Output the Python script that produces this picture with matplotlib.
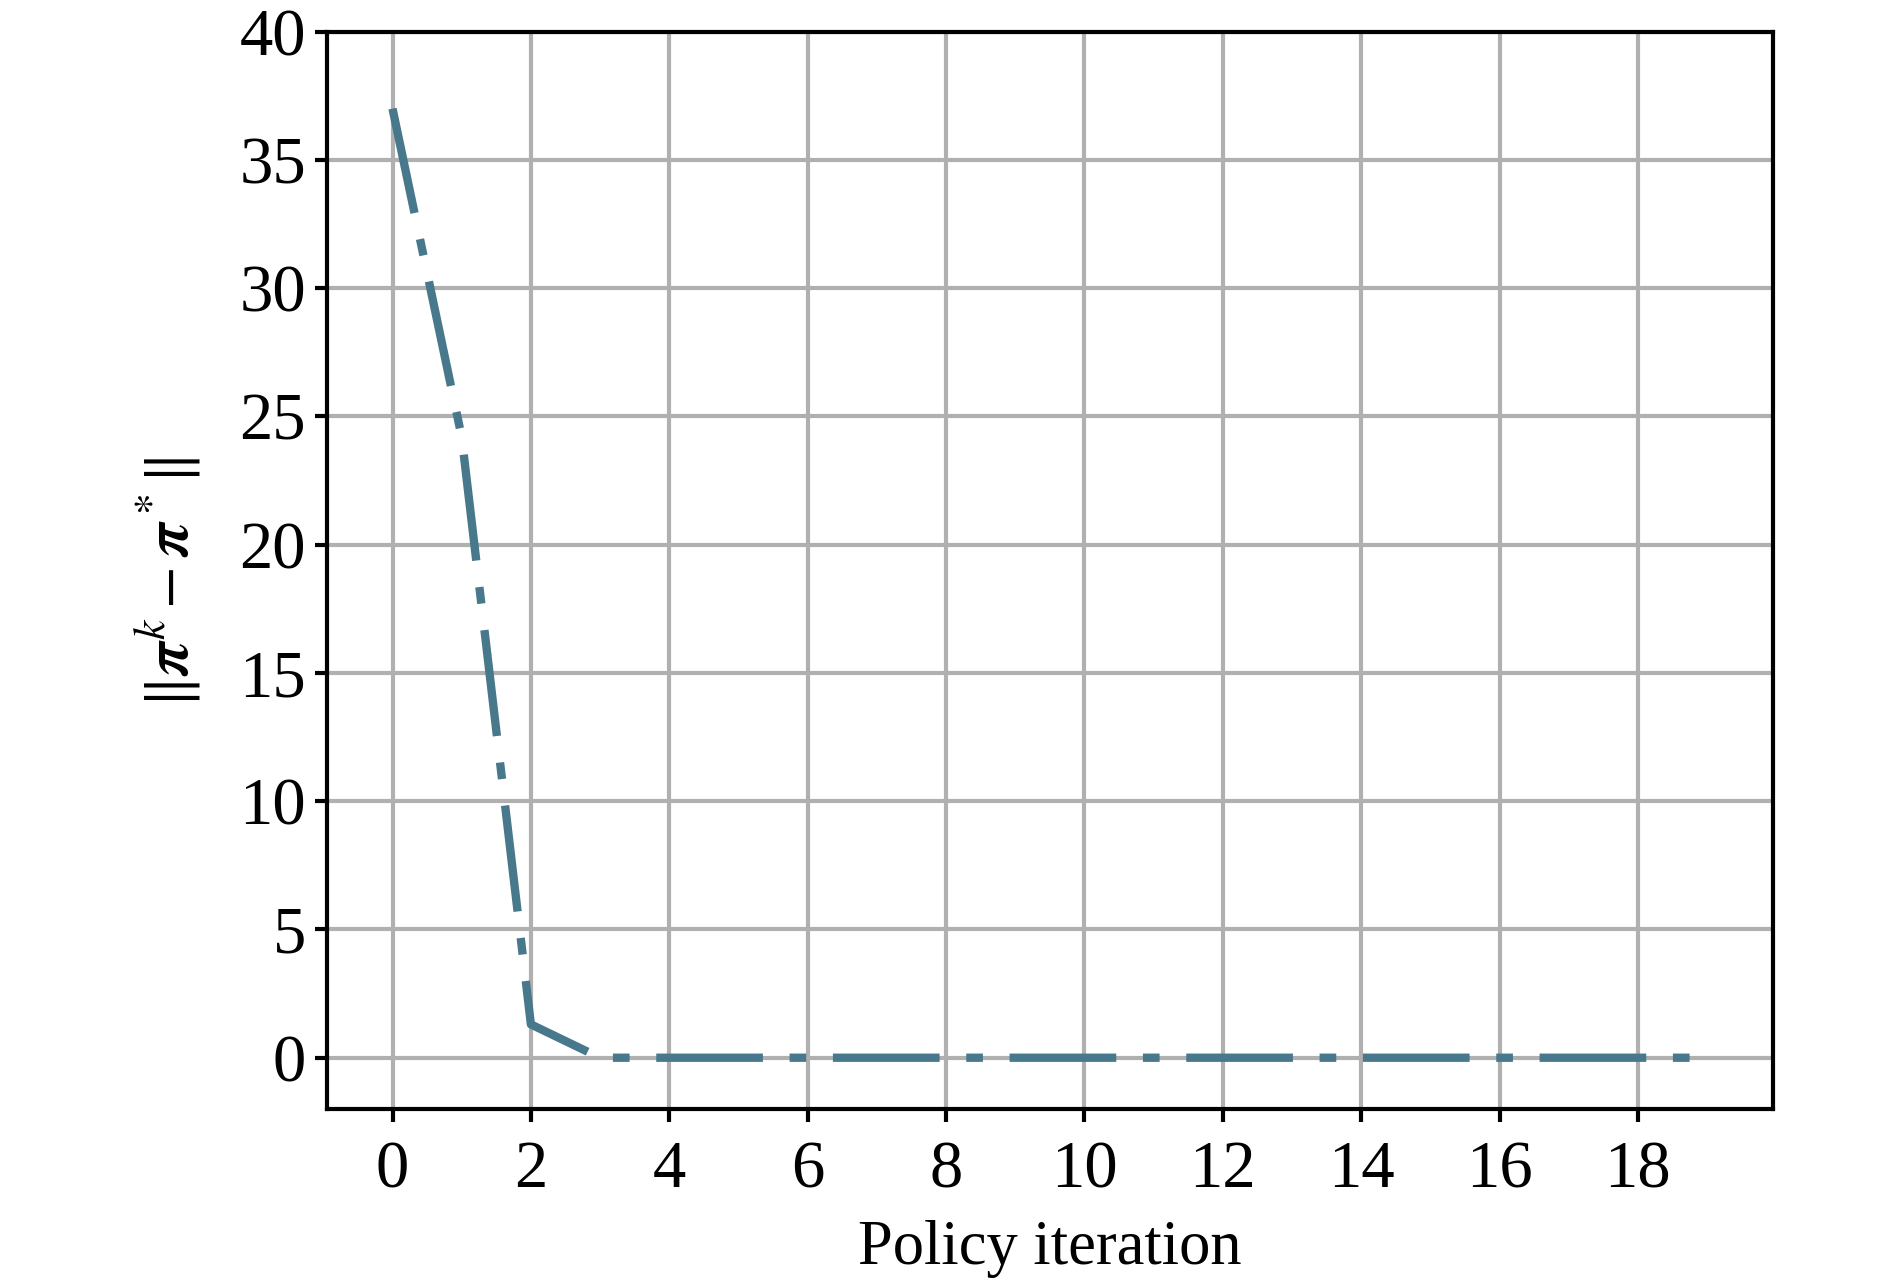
import matplotlib
matplotlib.use("Agg")
import matplotlib.pyplot as plt

iterations = list(range(20))
distance = [37.0, 24.2, 1.3, 0.0, 0.0, 0.0, 0.0, 0.0, 0.0, 0.0,
            0.0, 0.0, 0.0, 0.0, 0.0, 0.0, 0.0, 0.0, 0.0, 0.0]
xticks = list(range(0, 19, 2))
yticks = list(range(0, 41, 5))

plt.rcParams['font.family'] = ['Liberation Serif', 'DejaVu Serif']
plt.rcParams['mathtext.fontset'] = 'stix'
plt.rcParams['font.size'] = 15

fig = plt.figure(figsize=(6.3, 4.2767), dpi=300)
ax = fig.add_axes([0.1729, 0.1356, 0.938 - 0.1729, 0.9753 - 0.1356])

ax.plot(iterations, distance, color='#47788b', lw=2.0,
        linestyle=(0, (12.8, 3.2, 2.0, 3.2)), zorder=3)

ax.set_xlim(-0.95, 19.95)
ax.set_ylim(-2, 40)
ax.set_xticks(xticks)
ax.set_yticks(yticks)
ax.grid(True, color='#b0b0b0', linewidth=1.0)
ax.set_axisbelow(True)
for s in ax.spines.values():
    s.set_linewidth(1.0)
ax.tick_params(length=3, width=1.0, labelsize=16)
ax.tick_params(axis='x', pad=4.5)
ax.tick_params(axis='y', pad=2)

ax.set_xlabel('Policy iteration', fontsize=15, labelpad=4.5)
ax.set_ylabel(r'$\Vert\boldsymbol{\pi}^k-\boldsymbol{\pi}^*\Vert$', fontsize=15)
ax.yaxis.set_label_coords(-0.0858, 0.489)

fig.savefig('out.png', dpi=300)
